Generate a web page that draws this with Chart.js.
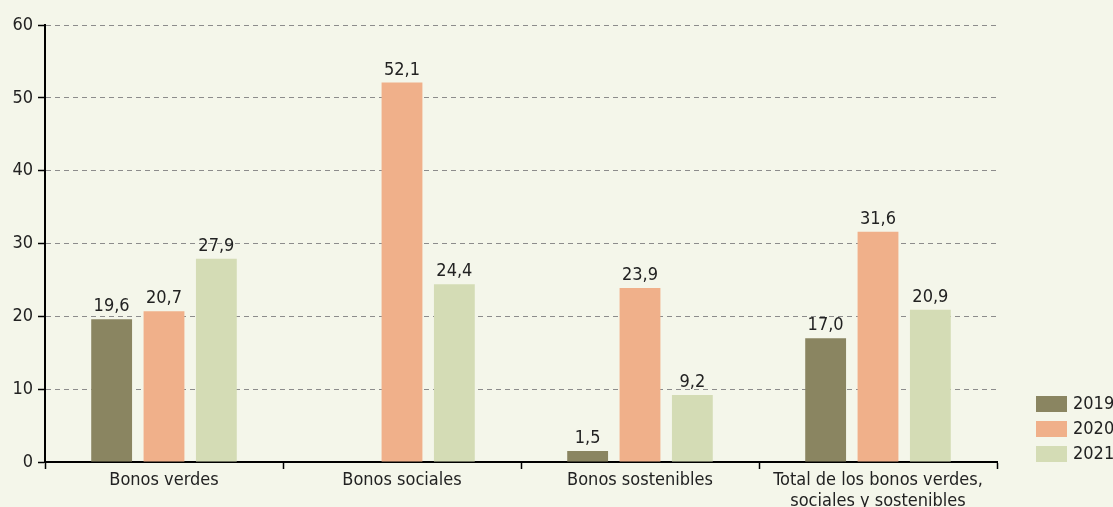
<!DOCTYPE html>
<html>
<head>
<meta charset="utf-8">
<script src="https://cdn.jsdelivr.net/npm/chart.js@4"></script>
<style>
  html, body { margin: 0; padding: 0; background: #f4f6ea; }
  .chart-box { width: 1113px; height: 507px; position: relative; }
</style>
</head>
<body>
<div class="chart-box">
  <canvas id="bonos"></canvas>
</div>
<script>
  const categories = [
    "Bonos verdes",
    "Bonos sociales",
    "Bonos sostenibles",
    ["Total de los bonos verdes,", "sociales y sostenibles"],
  ];
  const years = ["2019", "2020", "2021"];
  const values2019 = [19.6, null, 1.5, 17.0];
  const values2020 = [20.7, 52.1, 23.9, 31.6];
  const values2021 = [27.9, 24.4, 9.2, 20.9];
  const yTicks = [0, 10, 20, 30, 40, 50, 60];

  const FONT = '"Liberation Sans Narrow", "DejaVu Sans Condensed", "Roboto Condensed", sans-serif';

  // writes the value over each bar, decimal comma
  const barValues = {
    id: "barValues",
    afterDatasetsDraw(chart) {
      const ctx = chart.ctx;
      ctx.save();
      ctx.font = "18px " + FONT;
      ctx.fillStyle = "#222";
      ctx.textAlign = "center";
      ctx.textBaseline = "alphabetic";
      chart.data.datasets.forEach((ds, i) => {
        chart.getDatasetMeta(i).data.forEach((bar, j) => {
          const v = ds.data[j];
          if (v === null) return;
          ctx.fillText(v.toFixed(1).replace(".", ","), bar.x, bar.y - 8);
        });
      });
      ctx.restore();
    },
  };

  // legend stacked in the bottom right corner, next to the plot
  const cornerLegend = {
    id: "cornerLegend",
    afterDraw(chart) {
      const ctx = chart.ctx;
      const area = chart.chartArea;
      const sets = chart.data.datasets;
      const x = area.right + 39;
      ctx.save();
      ctx.font = "18px " + FONT;
      ctx.textAlign = "left";
      ctx.textBaseline = "middle";
      sets.forEach((ds, i) => {
        const top = area.bottom - 16 - (sets.length - 1 - i) * 25;
        ctx.fillStyle = ds.backgroundColor;
        ctx.fillRect(x, top, 31, 16);
        ctx.fillStyle = "#222";
        ctx.fillText(ds.label, x + 37, top + 8.5);
      });
      ctx.restore();
    },
  };

  new Chart(document.getElementById("bonos"), {
    type: "bar",
    data: {
      labels: categories,
      datasets: [
        { label: years[0], data: values2019, backgroundColor: "#8a8561" },
        { label: years[1], data: values2020, backgroundColor: "#f0b08a" },
        { label: years[2], data: values2021, backgroundColor: "#d4dcb5" },
      ],
    },
    options: {
      responsive: true,
      maintainAspectRatio: false,
      animation: false,
      categoryPercentage: 0.66,
      barPercentage: 0.78,
      layout: { padding: { top: 25, right: 116, bottom: 0, left: 0 } },
      plugins: {
        tooltip: { enabled: false },
        legend: { display: false },
      },
      scales: {
        x: {
          offset: true,
          grid: {
            offset: true,
            drawOnChartArea: false,
            drawTicks: true,
            tickLength: 7,
            tickColor: "#000",
            tickWidth: 1.5,
          },
          border: { color: "#000", width: 2 },
          ticks: {
            color: "#222",
            font: { family: FONT, size: 18, lineHeight: 1.15 },
            padding: 1,
            maxRotation: 0,
            autoSkip: false,
          },
          afterFit(scale) { scale.height = 45; },
        },
        y: {
          min: 0,
          max: 60,
          afterBuildTicks(scale) { scale.ticks = yTicks.map(v => ({ value: v })); },
          grid: {
            color: "#8c8c8c",
            lineWidth: 1,
            tickColor: "#000",
            tickLength: 7,
            tickWidth: 1.5,
            tickBorderDash: [],
          },
          border: { color: "#000", width: 2, dash: [5, 4] },
          ticks: {
            color: "#222",
            font: { family: FONT, size: 18 },
            padding: 5,
          },
          afterFit(scale) { scale.width = 45; },
        },
      },
    },
    plugins: [barValues, cornerLegend],
  });
</script>
</body>
</html>
